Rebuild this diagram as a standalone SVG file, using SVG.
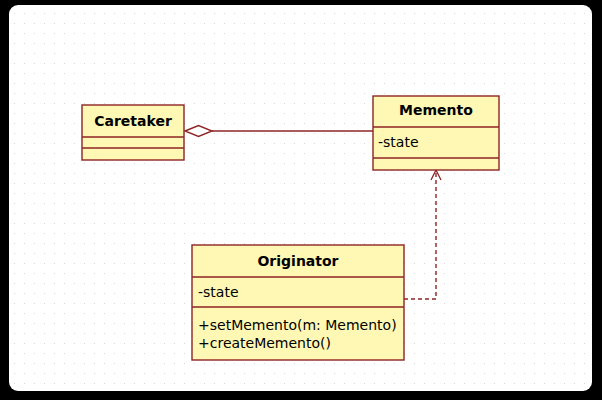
<svg xmlns="http://www.w3.org/2000/svg" width="602" height="400" viewBox="0 0 602 400">
<defs>
<pattern id="dots" x="4" y="3" width="10" height="10" patternUnits="userSpaceOnUse">
<rect x="0" y="0" width="1" height="1" fill="#d8d8d8"/>
</pattern>
<marker id="open" markerWidth="12" markerHeight="12" refX="11" refY="6" orient="auto" markerUnits="userSpaceOnUse" viewBox="0 0 12 12">
<path d="M1,1 L11,6 L1,11" fill="none" stroke="#8E2424" stroke-width="1.3"/>
</marker>
</defs>
<style>
.box{fill:#FFF8B5;stroke:#8E2424;stroke-width:1.4}
.sep{stroke:#8E2424;stroke-width:1.4}
.t{font-family:"DejaVu Sans",Verdana,sans-serif;font-size:14px;fill:#000}
.b{font-weight:bold;text-anchor:middle}
.conn{stroke:#8E2424;stroke-width:1.4;fill:none}
</style>
<rect x="0" y="0" width="602" height="400" fill="#000"/>
<rect x="9" y="5" width="583" height="386" rx="9" fill="#fff"/>
<rect x="14" y="9" width="574" height="378" fill="url(#dots)"/>
<g id="connectors">
<line class="conn" x1="212" y1="131" x2="373" y2="131"/>
<path d="M185,131 L198.5,125.5 L212,131 L198.5,136.5 Z" fill="#fff" stroke="#8E2424" stroke-width="1.4"/>
<path class="conn" d="M404,299 L436,299 L436,170" stroke-dasharray="4,3" marker-end="url(#open)"/>
</g>
<g id="caretaker">
<rect class="box" x="82" y="105" width="102" height="55"/>
<line class="sep" x1="82" y1="137" x2="184" y2="137"/>
<line class="sep" x1="82" y1="148" x2="184" y2="148"/>
<text class="t b" x="133" y="126">Caretaker</text>
</g>
<g id="memento">
<rect class="box" x="373" y="96" width="126" height="74"/>
<line class="sep" x1="373" y1="127" x2="499" y2="127"/>
<line class="sep" x1="373" y1="158" x2="499" y2="158"/>
<text class="t b" x="436" y="115">Memento</text>
<text class="t" x="378" y="147">-state</text>
</g>
<g id="originator">
<rect class="box" x="192" y="245" width="212" height="115"/>
<line class="sep" x1="192" y1="277" x2="404" y2="277"/>
<line class="sep" x1="192" y1="307" x2="404" y2="307"/>
<text class="t b" x="298" y="266">Originator</text>
<text class="t" x="198" y="297">-state</text>
<text class="t" x="198" y="330">+setMemento(m: Memento)</text>
<text class="t" x="198" y="348">+createMemento()</text>
</g>
</svg>
